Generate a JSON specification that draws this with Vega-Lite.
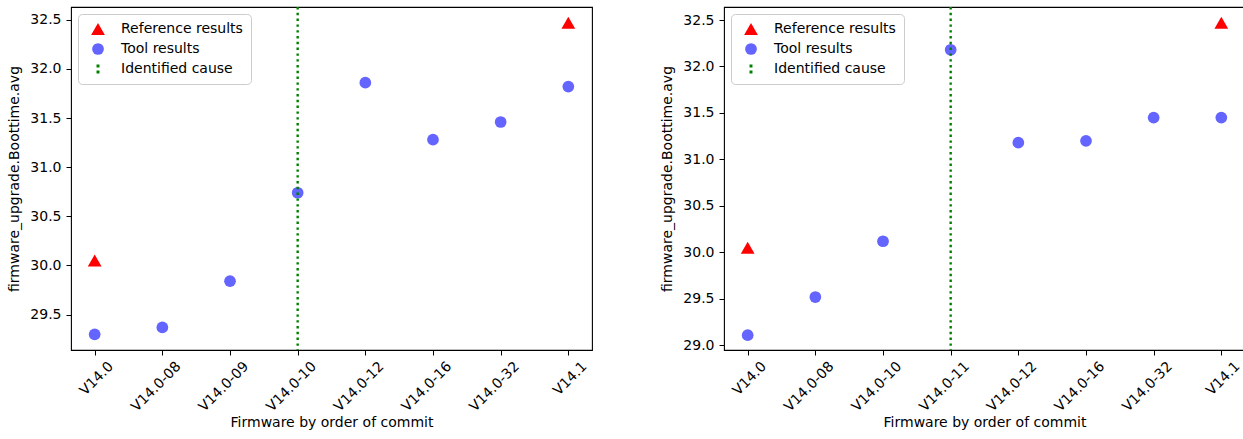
{
  "$schema": "https://vega.github.io/schema/vega-lite/v6.json",
  "padding": {"left": 7, "top": 5, "right": 0, "bottom": 0},
  "config": {
    "font": "DejaVu Sans",
    "view": {"stroke": "black", "strokeWidth": 1.1},
    "axis": {
      "domain": false, "grid": false, "tickColor": "black", "tickSize": 5, "tickWidth": 1,
      "labelFont": "DejaVu Sans", "labelFontSize": 14, "labelColor": "black", "labelPadding": 5,
      "titleFont": "DejaVu Sans", "titleFontSize": 14, "titleFontWeight": "normal", "titleColor": "black"
    },
    "legend": {
      "orient": "top-left", "offset": 7, "padding": 8, "fillColor": "rgba(255,255,255,0.8)",
      "strokeColor": "#cccccc", "cornerRadius": 4, "labelFont": "DejaVu Sans", "labelFontSize": 14,
      "labelColor": "black", "symbolOffset": 5, "labelOffset": 16, "rowPadding": 6, "symbolStrokeWidth": 0, "symbolOpacity": 1
    }
  },
  "datasets": {
    "left": [
      {"firmware": "V14.0", "value": 30.05, "series": "Reference results"},
      {"firmware": "V14.1", "value": 32.47, "series": "Reference results"},
      {"firmware": "V14.0", "value": 29.30, "series": "Tool results"},
      {"firmware": "V14.0-08", "value": 29.37, "series": "Tool results"},
      {"firmware": "V14.0-09", "value": 29.84, "series": "Tool results"},
      {"firmware": "V14.0-10", "value": 30.74, "series": "Tool results"},
      {"firmware": "V14.0-12", "value": 31.86, "series": "Tool results"},
      {"firmware": "V14.0-16", "value": 31.28, "series": "Tool results"},
      {"firmware": "V14.0-32", "value": 31.46, "series": "Tool results"},
      {"firmware": "V14.1", "value": 31.82, "series": "Tool results"}
    ],
    "right": [
      {"firmware": "V14.0", "value": 30.05, "series": "Reference results"},
      {"firmware": "V14.1", "value": 32.47, "series": "Reference results"},
      {"firmware": "V14.0", "value": 29.11, "series": "Tool results"},
      {"firmware": "V14.0-08", "value": 29.52, "series": "Tool results"},
      {"firmware": "V14.0-10", "value": 30.12, "series": "Tool results"},
      {"firmware": "V14.0-11", "value": 32.18, "series": "Tool results"},
      {"firmware": "V14.0-12", "value": 31.18, "series": "Tool results"},
      {"firmware": "V14.0-16", "value": 31.20, "series": "Tool results"},
      {"firmware": "V14.0-32", "value": 31.45, "series": "Tool results"},
      {"firmware": "V14.1", "value": 31.45, "series": "Tool results"}
    ],
    "leftCause": [{"firmware": "V14.0-10"}],
    "rightCause": [{"firmware": "V14.0-11"}]
  },
  "spacing": 67,
  "resolve": {"scale": {"color": "independent", "shape": "independent", "size": "independent"}, "legend": {"color": "independent", "shape": "independent", "size": "independent"}},
  "hconcat": [
    {
      "width": 521, "height": 343,
      "layer": [
        {
          "data": {"name": "left"},
          "mark": {"type": "point", "filled": true, "opacity": 1},
          "encoding": {
            "x": {"field": "firmware", "type": "ordinal",
              "scale": {"type": "point", "padding": 0.35, "domain": ["V14.0", "V14.0-08", "V14.0-09", "V14.0-10", "V14.0-12", "V14.0-16", "V14.0-32", "V14.1"]},
              "axis": {"title": "Firmware by order of commit", "titlePadding": 2, "labelPadding": 4, "labelAngle": -45, "labelAlign": "right", "labelBaseline": "top", "labelOffset": 11}},
            "y": {"field": "value", "type": "quantitative",
              "scale": {"domain": [29.14, 32.63], "nice": false, "zero": false},
              "axis": {"title": "firmware_upgrade.Boottime.avg", "values": [29.5, 30.0, 30.5, 31.0, 31.5, 32.0, 32.5], "format": ".1f", "titlePadding": 8}},
            "color": {"field": "series", "type": "nominal",
              "scale": {"domain": ["Reference results", "Tool results", "Identified cause"], "range": ["#ff0000", "#6464ff", "#008000"]},
              "legend": {"title": null}},
            "shape": {"field": "series", "type": "nominal",
              "scale": {"domain": ["Reference results", "Tool results", "Identified cause"], "range": ["triangle-up", "circle", "M-0.32,-1H0.32V-0.32H-0.32ZM-0.32,0.32H0.32V1H-0.32Z"]},
              "legend": {"title": null}},
            "size": {"field": "series", "type": "nominal",
              "scale": {"domain": ["Reference results", "Tool results", "Identified cause"], "range": [190, 85, 110]},
              "legend": {"title": null}}
          }
        },
        {
          "data": {"name": "leftCause"},
          "mark": {"type": "rule", "color": "#008000", "strokeWidth": 2.4, "strokeDash": [2.4, 3.4]},
          "encoding": {"x": {"field": "firmware", "type": "ordinal"}}
        }
      ]
    },
    {
      "width": 521, "height": 343,
      "layer": [
        {
          "data": {"name": "right"},
          "mark": {"type": "point", "filled": true, "opacity": 1},
          "encoding": {
            "x": {"field": "firmware", "type": "ordinal",
              "scale": {"type": "point", "padding": 0.35, "domain": ["V14.0", "V14.0-08", "V14.0-10", "V14.0-11", "V14.0-12", "V14.0-16", "V14.0-32", "V14.1"]},
              "axis": {"title": "Firmware by order of commit", "titlePadding": 2, "labelPadding": 4, "labelAngle": -45, "labelAlign": "right", "labelBaseline": "top", "labelOffset": 11}},
            "y": {"field": "value", "type": "quantitative",
              "scale": {"domain": [28.95, 32.64], "nice": false, "zero": false},
              "axis": {"title": "firmware_upgrade.Boottime.avg", "values": [29.0, 29.5, 30.0, 30.5, 31.0, 31.5, 32.0, 32.5], "format": ".1f", "titlePadding": 8}},
            "color": {"field": "series", "type": "nominal",
              "scale": {"domain": ["Reference results", "Tool results", "Identified cause"], "range": ["#ff0000", "#6464ff", "#008000"]},
              "legend": {"title": null}},
            "shape": {"field": "series", "type": "nominal",
              "scale": {"domain": ["Reference results", "Tool results", "Identified cause"], "range": ["triangle-up", "circle", "M-0.32,-1H0.32V-0.32H-0.32ZM-0.32,0.32H0.32V1H-0.32Z"]},
              "legend": {"title": null}},
            "size": {"field": "series", "type": "nominal",
              "scale": {"domain": ["Reference results", "Tool results", "Identified cause"], "range": [190, 85, 110]},
              "legend": {"title": null}}
          }
        },
        {
          "data": {"name": "rightCause"},
          "mark": {"type": "rule", "color": "#008000", "strokeWidth": 2.4, "strokeDash": [2.4, 3.4]},
          "encoding": {"x": {"field": "firmware", "type": "ordinal"}}
        }
      ]
    }
  ]
}
